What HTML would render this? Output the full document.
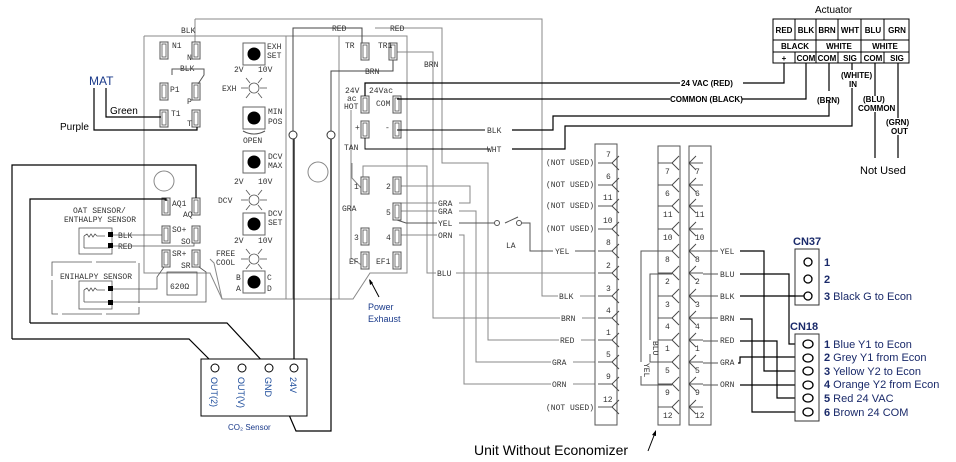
<!DOCTYPE html>
<html><head><meta charset="utf-8"><style>
html,body{margin:0;padding:0;background:#fff;}
svg{display:block;}
.m{font-family:"Liberation Mono",monospace;font-size:8px;fill:#333;}
.s{font-family:"Liberation Sans",sans-serif;}
</style></head><body>
<svg width="956" height="462" viewBox="0 0 956 462" xmlns="http://www.w3.org/2000/svg">
<defs>
<g id="con"><rect x="-4" y="0" width="8" height="17" fill="#fff" stroke="#555" stroke-width="1"/><rect x="-2" y="2" width="4" height="13" fill="none" stroke="#555" stroke-width="0.8"/></g>
<g id="led" stroke="#555" stroke-width="0.8" fill="none"><circle r="5" fill="#fff"/><line x1="-13" y1="0" x2="-6" y2="0"/><line x1="6" y1="0" x2="13" y2="0"/><line x1="-4" y1="-5" x2="-8" y2="-10"/><line x1="4" y1="-5" x2="8" y2="-10"/><line x1="-4" y1="5" x2="-8" y2="10"/><line x1="4" y1="5" x2="8" y2="10"/></g>
<g id="btn"><rect x="-11" y="-11" width="22" height="22" fill="#fff" stroke="#666"/><circle r="6.5" fill="#000"/></g>
<g id="fk" stroke="#444" stroke-width="0.9" fill="none"><line x1="-14" y1="0" x2="0" y2="0"/><line x1="0" y1="0" x2="7" y2="-7"/><line x1="0" y1="0" x2="7" y2="7"/></g>
<g id="mk" stroke="#444" stroke-width="0.9" fill="none"><line x1="0" y1="0" x2="14" y2="0"/><line x1="0" y1="0" x2="7" y2="-7"/><line x1="0" y1="0" x2="7" y2="7"/></g>
</defs>

<g stroke="#888" stroke-width="1" fill="none">
<polyline points="144,36 144,273 210,273 222,299 353,299 370,273 407,273 407,36 144,36"/>
<line x1="286" y1="36" x2="286" y2="299"/>
<line x1="293" y1="36" x2="293" y2="299"/>
<line x1="339" y1="36" x2="339" y2="299"/>
<circle cx="164" cy="181" r="10"/>
<circle cx="318" cy="172" r="10"/>
<polyline points="195,19 542,19 542,296 595,296"/>
<line x1="195" y1="19" x2="195" y2="43"/>
<polyline points="375,28 442,28 442,163 488,163 488,340 595,340"/>
<polyline points="397,52 433,52 433,318 595,318"/>
<polyline points="363,177 363,166 427,166 427,273 595,273"/>
<polyline points="397,186 470,186 470,203 400,203"/>
<polyline points="400,211 476,211 476,362 595,362"/>
<polyline points="397,235 464,235 464,384 595,384"/>
<polyline points="362,189 352,178 352,163"/>
<line x1="351" y1="110" x2="351" y2="258"/>
<line x1="351" y1="258" x2="363" y2="266"/>
<polyline points="210,259 214,263 222,299"/>
</g>
<polyline points="293,131 293,28 362,28 362,44" stroke="#444" fill="none"/>
<polyline points="331,131 331,71 393,71 393,60" stroke="#444" fill="none"/>

<g>
<use href="#con" x="164" y="42"/><use href="#con" x="196" y="42"/>
<use href="#con" x="164" y="83"/><use href="#con" x="196" y="83"/>
<use href="#con" x="164" y="110"/><use href="#con" x="196" y="110"/>
<use href="#con" x="166" y="198"/><use href="#con" x="196" y="198"/>
<use href="#con" x="166" y="226"/><use href="#con" x="196" y="226"/>
<use href="#con" x="166" y="250"/><use href="#con" x="196" y="250"/>
<use href="#con" x="365" y="43"/><use href="#con" x="393" y="43"/>
<use href="#con" x="365" y="96"/><use href="#con" x="397" y="96"/>
<use href="#con" x="365" y="121"/><use href="#con" x="397" y="121"/>
<use href="#con" x="365" y="177"/><use href="#con" x="397" y="177"/>
<use href="#con" x="397" y="203"/>
<use href="#con" x="365" y="228"/><use href="#con" x="397" y="228"/>
<use href="#con" x="365" y="252"/><use href="#con" x="397" y="252"/>
</g>
<g class="m">
<text x="172" y="48">N1</text><text x="187" y="60">N</text>
<text x="170" y="92">P1</text><text x="187" y="104">P</text>
<text x="171" y="116">T1</text><text x="187" y="126">T</text>
<text x="172" y="206">AQ1</text><text x="183" y="217">AQ</text>
<text x="172" y="232">SO+</text><text x="181" y="244">SO</text>
<text x="172" y="256">SR+</text><text x="181" y="268">SR</text>
<text x="181" y="33">BLK</text>
<text x="180" y="71">BLK</text>
<text x="345" y="48">TR</text><text x="378" y="48">TR1</text>
<text x="424" y="67">BRN</text>
<text x="365" y="74">BRN</text>
<text x="332" y="31">RED</text><text x="390" y="31">RED</text>
<text x="345" y="93">24V</text><text x="347" y="101">ac</text><text x="344" y="109">HOT</text>
<text x="369" y="93">24Vac</text><text x="376" y="106">COM</text>
<text x="355" y="130">+</text><text x="385" y="130">-</text>
<text x="344" y="150">TAN</text><text x="342" y="211">GRA</text>
<text x="354" y="189">1</text><text x="386" y="189">2</text><text x="386" y="215">5</text>
<text x="354" y="240">3</text><text x="386" y="240">4</text>
<text x="349" y="264">EF</text><text x="376" y="264">EF1</text>
<text x="267" y="49">EXH</text><text x="267" y="58">SET</text>
<text x="234" y="72">2V</text><text x="258" y="72">10V</text>
<text x="222" y="91">EXH</text>
<text x="268" y="114">MIN</text><text x="268" y="124">POS</text>
<text x="243" y="143">OPEN</text>
<text x="268" y="159">DCV</text><text x="268" y="168">MAX</text>
<text x="234" y="184">2V</text><text x="258" y="184">10V</text>
<text x="218" y="203">DCV</text>
<text x="268" y="216">DCV</text><text x="268" y="225">SET</text>
<text x="234" y="243">2V</text><text x="258" y="243">10V</text>
<text x="216" y="256">FREE</text><text x="216" y="265">COOL</text>
<text x="236" y="280">B</text><text x="267" y="280">C</text>
<text x="236" y="291">A</text><text x="267" y="291">D</text>
<text x="73" y="213">OAT SENSOR/</text><text x="64" y="222">ENTHALPY SENSOR</text>
<text x="118" y="238">BLK</text><text x="118" y="249">RED</text>
<text x="60" y="279">ENIHALPY SENSOR</text>
<text x="170" y="289">620Ω</text>
</g>
<use href="#btn" x="254" y="54"/><use href="#btn" x="254" y="118"/><use href="#btn" x="254" y="162"/><use href="#btn" x="254" y="224"/><use href="#btn" x="254" y="282"/>
<use href="#led" x="254" y="88"/><use href="#led" x="254" y="200"/><use href="#led" x="254" y="259"/>
<path d="M243,131 Q254,137 265,131" stroke="#555" fill="none"/>
<polyline points="172,75 172,69 204,69 204,75 198,84" stroke="#555" fill="none"/>

<g stroke="#555" fill="none" stroke-width="0.8">
<rect x="79" y="228" width="33" height="26"/>
<rect x="52" y="262" width="87" height="52" stroke-dasharray="40,4"/>
<rect x="79" y="281" width="33" height="28"/>
<rect x="167" y="272" width="30" height="23"/>
<polyline points="112,235 162,235"/><polyline points="112,246 194,246 194,243"/>
<polyline points="112,289 157,289 157,277 164,267"/><polyline points="112,302 206,302 206,272 199,267"/>
<path d="M84,236 l3,-2 l2,3 l2,-3 l2,3 l2,-3 l2,2 h8"/>
<path d="M84,290 l3,-2 l2,3 l2,-3 l2,3 l2,-3 l2,2 h8"/>
<line x1="84" y1="236" x2="84" y2="248"/><line x1="84" y1="248" x2="110" y2="248"/>
<line x1="84" y1="290" x2="84" y2="302"/><line x1="84" y1="302" x2="110" y2="302"/>
</g>
<g fill="#000"><rect x="108" y="232" width="5" height="5"/><rect x="108" y="243" width="5" height="5"/><rect x="108" y="286" width="5" height="5"/><rect x="108" y="300" width="5" height="5"/></g>

<g stroke="#000" stroke-width="1.2" fill="none">
<polyline points="106,88 106,117 161,117"/>
<polyline points="94,88 94,130 197,130 197,127"/>
<polyline points="12,339 12,165 196,165 196,198"/>
<polyline points="30,323 30,199 166,199 166,201"/>
<polyline points="12,339 189,339 215,365"/>
<polyline points="30,323 227,323 266,365"/>
<polyline points="270,371 296,431 331,431 331,139"/>
<line x1="294" y1="364" x2="294" y2="139"/>
</g>
<circle cx="293" cy="135" r="4" fill="#fff" stroke="#333"/>
<circle cx="331" cy="135" r="4" fill="#fff" stroke="#333"/>
<text class="s" x="89" y="85" font-size="12" fill="#1a3a8a">MAT</text>
<text class="s" x="110" y="114" font-size="10" fill="#000">Green</text>
<text class="s" x="60" y="130" font-size="10" fill="#000">Purple</text>

<rect x="201" y="359" width="106" height="57" fill="#fff" stroke="#000"/>
<g fill="#fff" stroke="#000"><circle cx="215" cy="368" r="4"/><circle cx="242" cy="368" r="4"/><circle cx="269" cy="368" r="4"/><circle cx="294" cy="368" r="4"/></g>
<g class="s" font-size="9" fill="#1a4a9a">
<text transform="translate(211,377) rotate(90)">OUT(2)</text>
<text transform="translate(238,377) rotate(90)">OUT(V)</text>
<text transform="translate(265,377) rotate(90)">GND</text>
<text transform="translate(290,377) rotate(90)">24V</text>
</g>
<text class="s" x="228" y="430" font-size="8" fill="#1a3a8a">CO₂ Sensor</text>
<text class="s" x="368" y="310" font-size="9" fill="#1a3a8a">Power</text>
<text class="s" x="368" y="322" font-size="9" fill="#1a3a8a">Exhaust</text>
<line x1="379" y1="297" x2="370" y2="280" stroke="#000"/><path d="M369,279 l1,6 l3,-2z" fill="#000"/>

<g stroke="#000" stroke-width="1.2" fill="none">
<polyline points="365,96 365,83 680,83"/><polyline points="743,83 784,83 784,63"/>
<polyline points="397,99 670,99"/><polyline points="742,99 806,99 806,63"/>
<polyline points="512,130 553,130 553,116 829,116 829,100"/><line x1="829" y1="63" x2="829" y2="91"/>
<polyline points="512,149 565,149 565,126 852,126 852,88"/><line x1="852" y1="63" x2="852" y2="70"/>
<line x1="875" y1="63" x2="875" y2="96"/><line x1="875" y1="112" x2="875" y2="158"/>
<line x1="898" y1="63" x2="898" y2="118"/><line x1="898" y1="135" x2="898" y2="158"/>
</g>
<g stroke="#000" stroke-width="0.9" fill="none">
<line x1="397" y1="130" x2="485" y2="130"/><polyline points="365,138 365,149 490,149"/>
</g>
<g font-family="Liberation Sans,sans-serif" font-size="8" font-weight="bold" fill="#000">
<text x="681" y="86">24 VAC (RED)</text>
<text x="670" y="102">COMMON (BLACK)</text>
<text x="817" y="103">(BRN)</text>
<text x="841" y="78">(WHITE)</text><text x="849" y="87">IN</text>
<text x="863" y="102">(BLU)</text><text x="858" y="111">COMMON</text>
<text x="886" y="125">(GRN)</text><text x="891" y="134">OUT</text>
</g>
<text class="m" x="487" y="133">BLK</text><text class="m" x="487" y="152">WHT</text>
<text class="s" x="860" y="174" font-size="11" fill="#000">Not Used</text>
<text class="s" x="815" y="13" font-size="10" fill="#000">Actuator</text>
<rect x="773" y="19" width="136" height="44" fill="#fff" stroke="#000"/>
<g stroke="#000" stroke-width="1">
<line x1="773" y1="40" x2="909" y2="40"/><line x1="773" y1="52" x2="909" y2="52"/>
<line x1="795" y1="19" x2="795" y2="40"/><line x1="795" y1="52" x2="795" y2="63"/>
<line x1="816" y1="19" x2="816" y2="63"/>
<line x1="838" y1="19" x2="838" y2="40"/><line x1="838" y1="52" x2="838" y2="63"/>
<line x1="861" y1="19" x2="861" y2="63"/>
<line x1="884" y1="19" x2="884" y2="40"/><line x1="884" y1="52" x2="884" y2="63"/>
</g>
<g font-family="Liberation Sans,sans-serif" font-size="8" font-weight="bold" fill="#000" text-anchor="middle">
<text x="784" y="33">RED</text><text x="806" y="33">BLK</text><text x="827" y="33">BRN</text><text x="850" y="33">WHT</text><text x="873" y="33">BLU</text><text x="897" y="33">GRN</text>
<text x="795" y="49">BLACK</text><text x="839" y="49">WHITE</text><text x="885" y="49">WHITE</text>
<text x="784" y="61">+</text><text x="806" y="61">COM</text><text x="827" y="61">COM</text><text x="850" y="61">SIG</text><text x="873" y="61">COM</text><text x="897" y="61">SIG</text>
</g>

<rect x="595" y="144" width="22" height="281" fill="none" stroke="#555"/>
<g class="m">
<text x="546" y="165">(NOT USED)</text><text x="546" y="187">(NOT USED)</text><text x="546" y="208">(NOT USED)</text><text x="546" y="231">(NOT USED)</text><text x="546" y="410">(NOT USED)</text>
</g>
<g>
<use href="#fk" x="612" y="163"/><use href="#fk" x="612" y="185"/><use href="#fk" x="612" y="206"/><use href="#fk" x="612" y="229"/>
<use href="#fk" x="612" y="251"/><use href="#fk" x="612" y="273"/><use href="#fk" x="612" y="296"/><use href="#fk" x="612" y="318"/>
<use href="#fk" x="612" y="340"/><use href="#fk" x="612" y="362"/><use href="#fk" x="612" y="384"/><use href="#fk" x="612" y="407"/>
</g>
<g class="m"><text x="606" y="157">7</text><text x="606" y="179">6</text><text x="603" y="200">11</text><text x="603" y="223">10</text><text x="606" y="245">8</text><text x="606" y="268">2</text><text x="606" y="291">3</text><text x="606" y="313">4</text><text x="606" y="335">1</text><text x="606" y="357">5</text><text x="606" y="379">9</text><text x="603" y="402">12</text></g>
<g stroke="#555" fill="none" stroke-width="1">
<polyline points="397,220 406,223 495,223"/><polyline points="520,223 530,223 530,251 595,251"/>
<line x1="505" y1="223" x2="518" y2="217"/>
</g>
<circle cx="497" cy="223" r="2.5" fill="#fff" stroke="#555"/><circle cx="519" cy="223" r="2.5" fill="#fff" stroke="#555"/>
<text class="m" x="506" y="248" font-size="7">LA</text>
<g font-family="Liberation Mono,monospace" font-size="8" fill="#333">
<rect x="436" y="268" width="20" height="10" fill="#fff"/><text x="437" y="276">BLU</text>
<rect x="553" y="246" width="22" height="10" fill="#fff"/><text x="555" y="254">YEL</text>
<rect x="558" y="291" width="22" height="10" fill="#fff"/><text x="559" y="299">BLK</text>
<rect x="560" y="313" width="22" height="10" fill="#fff"/><text x="561" y="321">BRN</text>
<rect x="559" y="335" width="22" height="10" fill="#fff"/><text x="560" y="343">RED</text>
<rect x="551" y="357" width="22" height="10" fill="#fff"/><text x="552" y="365">GRA</text>
<rect x="551" y="379" width="22" height="10" fill="#fff"/><text x="552" y="387">ORN</text>
<rect x="437" y="198" width="22" height="10" fill="#fff"/><text x="438" y="206">GRA</text>
<rect x="437" y="206" width="22" height="10" fill="#fff"/><text x="438" y="214">GRA</text>
<rect x="437" y="218" width="22" height="10" fill="#fff"/><text x="438" y="226">YEL</text>
<rect x="437" y="230" width="22" height="10" fill="#fff"/><text x="438" y="238">ORN</text>
</g>

<g stroke="#555" fill="none">
<rect x="658" y="146" width="22" height="279"/><rect x="689" y="146" width="22" height="279"/>
</g>
<g>
<use href="#fk" x="672" y="163"/><use href="#fk" x="672" y="185"/><use href="#fk" x="672" y="206"/><use href="#fk" x="672" y="229"/>
<use href="#fk" x="672" y="251"/><use href="#fk" x="672" y="273"/><use href="#fk" x="672" y="296"/><use href="#fk" x="672" y="318"/>
<use href="#fk" x="672" y="340"/><use href="#fk" x="672" y="362"/><use href="#fk" x="672" y="384"/><use href="#fk" x="672" y="407"/>
<use href="#mk" x="689" y="163"/><use href="#mk" x="689" y="185"/><use href="#mk" x="689" y="206"/><use href="#mk" x="689" y="229"/>
<use href="#mk" x="689" y="251"/><use href="#mk" x="689" y="273"/><use href="#mk" x="689" y="296"/><use href="#mk" x="689" y="318"/>
<use href="#mk" x="689" y="340"/><use href="#mk" x="689" y="362"/><use href="#mk" x="689" y="384"/><use href="#mk" x="689" y="407"/>
</g>
<g class="m" font-size="7"><text x="665" y="174">7</text><text x="695" y="174">7</text><text x="665" y="196">6</text><text x="695" y="196">6</text><text x="663" y="217">11</text><text x="695" y="217">11</text><text x="663" y="240">10</text><text x="695" y="240">10</text>
<text x="665" y="262">8</text><text x="695" y="262">8</text><text x="665" y="284">2</text><text x="695" y="284">2</text><text x="665" y="307">3</text><text x="695" y="307">3</text><text x="665" y="329">4</text><text x="695" y="329">4</text><text x="665" y="351">1</text><text x="695" y="351">1</text><text x="665" y="373">5</text><text x="695" y="373">5</text><text x="665" y="395">9</text><text x="695" y="395">9</text><text x="663" y="418">12</text><text x="695" y="418">12</text></g>
<g stroke="#555" fill="none"><polyline points="672,251 641,251 641,385 672,385"/><polyline points="672,274 650,274 650,362 672,362"/></g>
<g class="m" font-size="7"><rect x="646" y="340" width="8" height="14" fill="#fff"/><text transform="translate(653,341) rotate(90)">BLU</text><rect x="637" y="362" width="8" height="14" fill="#fff"/><text transform="translate(644,363) rotate(90)">YEL</text></g>
<g class="m" font-size="7">
<text x="720" y="254">YEL</text><text x="720" y="277">BLU</text><text x="720" y="299">BLK</text><text x="720" y="321">BRN</text><text x="720" y="343">RED</text><text x="720" y="365">GRA</text><text x="720" y="387">ORN</text>
</g>
<g stroke="#555"><line x1="703" y1="251" x2="718" y2="251"/><line x1="703" y1="274" x2="718" y2="274"/><line x1="703" y1="296" x2="718" y2="296"/><line x1="703" y1="318" x2="718" y2="318"/><line x1="703" y1="341" x2="718" y2="341"/><line x1="703" y1="363" x2="718" y2="363"/><line x1="703" y1="385" x2="718" y2="385"/></g>
<g stroke="#000" stroke-width="1.2" fill="none">
<polyline points="740,251 764,251 764,371 804,371"/>
<polyline points="740,274 789,274 789,344 804,344"/>
<polyline points="740,296 804,296"/>
<polyline points="740,319 752,319 752,412 804,412"/>
<polyline points="740,341 777,341 777,398 804,398"/>
<polyline points="738,363 740,363 740,357 804,357"/>
<polyline points="740,385 804,385"/>
</g>
<text class="s" x="474" y="455" font-size="14" fill="#000">Unit Without Economizer</text>
<line x1="648" y1="451" x2="655" y2="433" stroke="#000"/><path d="M656,430 l-4,5 l4,1z" fill="#000"/>

<text class="s" x="793" y="245" font-size="11" fill="#1a2a6a" font-weight="bold">CN37</text>
<rect x="795" y="249" width="24" height="56" fill="#fff" stroke="#333"/>
<g fill="#fff" stroke="#000" stroke-width="1.3"><circle cx="808" cy="262" r="4"/><circle cx="808" cy="279" r="4"/><circle cx="808" cy="296" r="4"/></g>
<line x1="789" y1="296" x2="804" y2="296" stroke="#000" stroke-width="1.2"/>
<g class="s" font-size="11" fill="#1a2a6a"><text x="824" y="266" font-weight="bold">1</text><text x="824" y="283" font-weight="bold">2</text><text x="824" y="300"><tspan font-weight="bold">3</tspan>  Black   G to Econ</text></g>
<text class="s" x="790" y="330" font-size="11" fill="#1a2a6a" font-weight="bold">CN18</text>
<rect x="795" y="334" width="24" height="87" fill="#fff" stroke="#333"/>
<g fill="#fff" stroke="#000" stroke-width="1.3"><ellipse cx="808" cy="344" rx="5" ry="4"/><ellipse cx="808" cy="358" rx="5" ry="4"/><ellipse cx="808" cy="371" rx="5" ry="4"/><ellipse cx="808" cy="385" rx="5" ry="4"/><ellipse cx="808" cy="398" rx="5" ry="4"/><ellipse cx="808" cy="412" rx="5" ry="4"/></g>
<g class="s" font-size="11" fill="#1a2a6a">
<text x="824" y="348"><tspan font-weight="bold">1</tspan> Blue  Y1 to Econ</text>
<text x="824" y="361"><tspan font-weight="bold">2</tspan> Grey  Y1 from Econ</text>
<text x="824" y="375"><tspan font-weight="bold">3</tspan> Yellow  Y2 to Econ</text>
<text x="824" y="388"><tspan font-weight="bold">4</tspan> Orange Y2 from Econ</text>
<text x="824" y="402"><tspan font-weight="bold">5</tspan> Red  24 VAC</text>
<text x="824" y="416"><tspan font-weight="bold">6</tspan> Brown 24 COM</text>
</g>
</svg>
</body></html>
